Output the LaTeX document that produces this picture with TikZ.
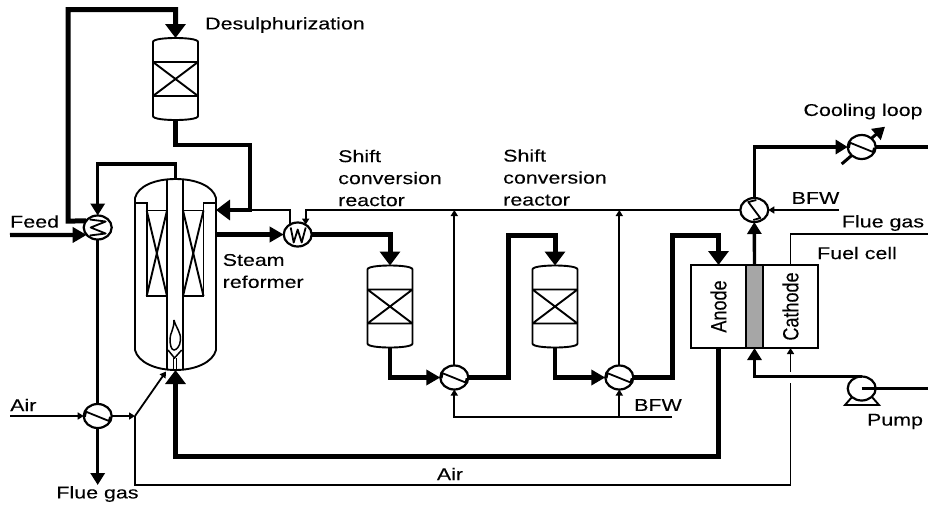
\documentclass[tikz,border=0pt]{standalone}
\usepackage{fontspec}
\setmainfont[FakeStretch=1.26,FakeBold=0.12]{Liberation Sans}
\newfontfamily\cellfont[FakeStretch=0.82,FakeBold=0.12]{Liberation Sans}
\usetikzlibrary{arrows.meta,shapes.geometric}

\tikzset{
	thickpipe/.style={line width=5pt, -{Triangle[length=14pt,width=20pt]}},
	feedpipe/.style={line width=4.2pt, -{Triangle[length=14pt,width=15pt]}},
	midpipe/.style={line width=3.4pt, -{Triangle[length=12pt,width=14pt]}},
	thinpipe/.style={line width=1.8pt, -{Triangle[length=6pt,width=7pt]}},
	hx/.style={ellipse, draw, fill=white, line width=2.2pt, minimum width=28pt, minimum height=24pt, inner sep=0pt, outer sep=0pt},
	zig/.style={line width=1.8pt, line join=round},
	vesselbox/.style={rectangle, minimum width=45pt, minimum height=82pt, inner sep=0pt, outer sep=0pt},
	cellbox/.style={rectangle, draw, line width=1.8pt, minimum width=55pt, minimum height=83pt, inner sep=0pt, outer sep=0pt},
	lbl/.style={font=\fontsize{17}{22}\selectfont, inner sep=0pt, align=left},
	celllbl/.style={font=\cellfont\fontsize{22}{22}\selectfont, inner sep=0pt, rotate=90}
}

% vessel with catalyst bed: name, position
\newcommand{\vessel}[2]{
	\node[vesselbox] (#1) at #2 {};
	\begin{scope}[shift={(#1.center)}, line width=1.9pt, line join=bevel]
		\draw (-22.5,-37) .. controls (-22.5,-40) and (-10,-41) .. (0,-41) .. controls (10,-41) and (22.5,-40) .. (22.5,-37) --
		(22.5,37) .. controls (22.5,40) and (10,41) .. (0,41) .. controls (-10,41) and (-22.5,40) .. (-22.5,37) -- cycle;
		\draw (-22.5,-17) -- (22.5,-17) -- (-22.5,17) -- (22.5,17) -- (-22.5,-17);
	\end{scope}
}
% heat exchanger: name, position, zigzag
\newcommand{\exchanger}[3]{
	\node[hx] (#1) at #2 {};
	\begin{scope}[shift={(#1.center)}]
		\draw[zig] #3;
	\end{scope}
}
\newcommand{\zigflat}{(-12.7,0.7) -- (-11.7,-4.3) -- (11.3,5) -- (12.3,0.7)}
\newcommand{\zigsteep}{(2,-10) -- (-6,-8) -- (6,8) -- (-1,10)}
\newcommand{\zigw}{(-7,-7) -- (-4,8) -- (0,-5) -- (4,8) -- (8,-7)}
\newcommand{\zigside}{(-8,-8) -- (8,-6) -- (-7,0) -- (8,6) -- (-8,8)}

\begin{document}
\begin{tikzpicture}[x=1pt, y=-1pt]
	\useasboundingbox (0,0) rectangle (928,504);

	% steam reformer
	\node[rectangle, minimum width=81pt, minimum height=191pt, inner sep=0pt, outer sep=0pt] (ref) at (175.5,274.5) {};
	\begin{scope}[line width=1.9pt]
		\draw (135,198) .. controls (138,186) and (155,179) .. (175.5,179) .. controls (196,179) and (213,186) .. (216,198) --
		(216,350) .. controls (213,362) and (196,370) .. (175.5,370) .. controls (155,370) and (138,362) .. (135,350) -- cycle;
		\draw (167,179) -- (167,370);
		\draw (183,179) -- (183,370);
		\draw (135,203) -- (146.7,203) -- (146.7,296) -- (167,296);
		\draw (146.7,210.5) -- (167,210.5);
		\draw (146.7,210.5) -- (167,296);
		\draw (167,210.5) -- (146.7,296);
		\draw (216,203) -- (203.5,203) -- (203.5,296) -- (183,296);
		\draw (183,210.5) -- (203.5,210.5);
		\draw (183,210.5) -- (203.5,296);
		\draw (203.5,210.5) -- (183,296);
		% burner
		\draw[line width=1.5pt] (174,320) .. controls (176,328) and (181,332) .. (180.5,340) .. controls (180,347) and (176,350) .. (174,350) .. controls (171,350) and (170,344) .. (170,339) .. controls (170,333) and (174,330) .. (174,320);
		\draw[line width=1.5pt] (168,350) -- (174.5,358) -- (181.7,350);
		\draw[line width=1.2pt] (173.3,358) -- (173.3,370);
		\draw[line width=1.2pt] (176.3,358) -- (176.3,370);
	\end{scope}

	% vessels
	\vessel{des}{(175.5,79)}
	\vessel{shifta}{(390,306.5)}
	\vessel{shiftb}{(555,306.5)}

	% fuel cell
	\node[cellbox] (anode) at (718.5,306.5) {};
	\node[cellbox] (cathode) at (790.5,306.5) {};
	\node[cellbox, fill=black!35, minimum width=17pt, line width=2.4pt] (mem) at (754.5,306.5) {};
	\node[celllbl] (anodetxt) at (anode.center) {Anode};
	\node[celllbl] (cathodetxt) at (cathode.center) {Cathode};

	% cooling stream goes behind the cooler
	\coordinate (coolin) at (841.7,164);
	\coordinate (coolend) at (885,126.7);
	\draw[midpipe, line width=3pt] (coolin) -- (coolend);

	% exchangers
	\exchanger{hxf}{(97.7,227.5)}{\zigside}
	\exchanger{hxair}{(97.7,416)}{\zigflat}
	\exchanger{hxs}{(297.7,234.5)}{\zigw}
	\exchanger{hxa}{(454.3,377.5)}{\zigflat}
	\exchanger{hxb}{(619.3,377.5)}{\zigflat}
	\exchanger{hxt}{(754.3,210)}{\zigsteep}
	\exchanger{hxc}{(861.7,147)}{\zigflat}

	% pump
	\node[hx] (pump) at (861.7,388.5) {};
	\coordinate (pumpl) at (845,405);
	\coordinate (pumpr) at (879,405);
	\draw[line width=1.9pt] (852,397) -- (pumpl) -- (pumpr) -- (872,397);

	% free ends and bends
	\coordinate (feedin) at (10,235);
	\coordinate (airin) at (10,416);
	\coordinate (airj) at (135,416);
	\coordinate (flueout) at (97.7,485);
	\coordinate (looptl) at (68,9.5);
	\coordinate (loopbl) at (68,221);
	\coordinate (looptr) at (175.5,9.5);
	\coordinate (desout) at (250,145);
	\coordinate (refin) at (250,210);
	\coordinate (reftop) at (175.5,164);
	\coordinate (reccorner) at (97.7,164);
	\coordinate (shiftup) at (508,235);
	\coordinate (anodeup) at (672.3,235);
	\coordinate (retcorner) at (175.5,456);
	\coordinate (airbr) at (790.5,485);
	\coordinate (airgapb) at (790.5,383);
	\coordinate (airgapt) at (790.5,372);
	\coordinate (bfwlow) at (672,416.7);
	\coordinate (bfwtop) at (839,210);
	\coordinate (coolout) at (928,147);
	\coordinate (flueend) at (928,234.3);
	\coordinate (pumpout) at (928,388.5);
	\coordinate (burnerin) at (166,371.5);

	% thick process lines
	\draw[thickpipe] (hxf.151) -- (loopbl) -- (looptl) -- (looptr) -- (des.north);
	\draw[thickpipe, line width=4.6pt] (des.south) |- (desout) -- (refin) -- (refin -| ref.east);
	\draw[feedpipe] (feedin) -- (hxf.214);
	\draw[feedpipe] (hxs.west -| ref.east) -- (hxs.west);
	\draw[thickpipe] (hxs.east) -| (shifta.north);
	\draw[feedpipe] (shifta.south) |- (hxa.west);
	\draw[thickpipe] (hxa.east) -| (shiftup) -| (shiftb.north);
	\draw[feedpipe] (shiftb.south) |- (hxb.west);
	\draw[thickpipe] (hxb.east) -| (anodeup) -| (anode.north);
	\draw[thickpipe] (anode.south) |- (retcorner) -- (ref.south);

	% medium lines
	\draw[midpipe] (reftop |- ref.north) -- (reftop) -- (reccorner) -- (hxf.north);
	\draw[midpipe, -] (hxf.south) -- (hxair.north);
	\draw[midpipe] (hxair.south) -- (flueout);
	\draw[midpipe] (mem.north) -- (hxt.south);
	\draw[midpipe] (hxt.north) |- (hxc.west);
	\draw[midpipe, -] (hxc.east) -- (coolout);
	\draw[midpipe] (pump.north) -| (mem.south);
	\draw[midpipe, -] (pump.center) -- (pumpout);

	% thin lines
	\draw[thinpipe] (airin) -- (hxair.west);
	\draw[thinpipe] (hxair.east) -- (airj);
	\draw[thinpipe] (airj) -- (burnerin);
	\draw[thinpipe, -] (airj) |- (airbr) -- (airgapb);
	\draw[thinpipe] (airgapt) -- (cathode.south);
	\draw[thinpipe, -] (refin) -| (hxs.128);
	\draw[thinpipe] (hxt.west) -| (hxs.51);
	\draw[thinpipe] (hxa.north) -- (hxa.north |- hxt.west);
	\draw[thinpipe] (hxb.north) -- (hxb.north |- hxt.west);
	\draw[thinpipe] (bfwlow) -| (hxa.south);
	\draw[thinpipe] (hxb.south |- bfwlow) -- (hxb.south);
	\draw[thinpipe] (bfwtop) -- (hxt.east);
	\draw[thinpipe, -] (cathode.north) |- (flueend);

	% labels
	\node[lbl, anchor=west] (deslbl) at (205,25) {Desulphurization};
	\node[lbl, anchor=west] (feedlbl) at (10,221.5) {Feed};
	\node[lbl, anchor=west] (airlbl) at (10,405) {Air};
	\node[lbl] (fluelbl) at (97.5,494) {Flue gas};
	\node[lbl, anchor=west] (reflbl) at (222.5,271) {Steam\\reformer};
	\node[lbl, anchor=west] (shiftalbl) at (338,178) {Shift\\conversion\\reactor};
	\node[lbl, anchor=west] (shiftblbl) at (503,177.5) {Shift\\conversion\\reactor};
	\node[lbl] (airlowlbl) at (450,474) {Air};
	\node[lbl] (bfwalbl) at (658,405) {BFW};
	\node[lbl] (bfwblbl) at (815.5,198) {BFW};
	\node[lbl] (coollbl) at (863,111.5) {Cooling loop};
	\node[lbl] (flueblbl) at (883,223) {Flue gas};
	\node[lbl] (celllbl) at (857,253) {Fuel cell};
	\node[lbl] (pumplbl) at (895,421.5) {Pump};
\end{tikzpicture}
\end{document}
